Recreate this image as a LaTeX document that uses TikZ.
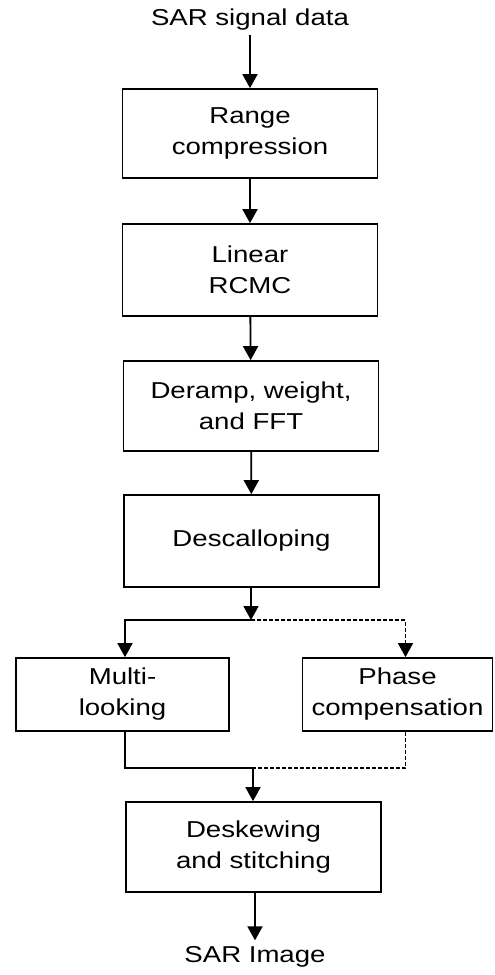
\documentclass[tikz,border=0pt]{standalone}
\usepackage{fontspec}
\setmainfont[FakeStretch=1.2]{Liberation Sans}
\usepackage{tikz}
\usetikzlibrary{
    positioning,
    arrows.meta,
    calc
}

\begin{document}
\begin{tikzpicture}[x=1pt, y=-1pt,
        txt/.style={font=\fontsize{23}{31}\selectfont, align=center, inner sep=0pt},
        stage/.style={txt, draw, line width=1.7pt, minimum width=255pt, minimum height=90pt},
        flow/.style={line width=1.8pt, -{Triangle[length=14pt, width=15pt]}},
        link/.style={line width=1.8pt},
        dlink/.style={line width=1.5pt, dash pattern=on 4pt off 2pt}
    ]
    \useasboundingbox (0,0) rectangle (495,975);

    % input and output
    \node[txt, inner ysep=4pt] (sig) at (250, 20) {SAR signal data};
    \node[txt, inner ysep=6pt] (img) at (255, 957) {SAR Image};

    % main chain
    \node[stage, minimum height=89pt] (rc) at (250, 133.5) {Range\\compression};
    \node[stage, minimum height=92pt] (rcmc) at (250, 270) {Linear\\RCMC};
    \node[stage] (fft) at (251, 406) {Deramp, weight,\\and FFT};
    \node[stage, minimum height=92pt] (desc) at (251.5, 541) {Descalloping};

    % the two branches
    \node[stage, minimum width=213pt, minimum height=73pt] (multi) at (122.5, 694.5) {Multi-\\looking};
    \node[stage, minimum width=190pt, minimum height=73pt] (phase) at (397.5, 694.5) {Phase\\compensation};

    \node[stage] (desk) at (253.5, 847) {Deskewing\\and stitching};

    % split and merge points
    \coordinate (split) at (251, 620);
    \coordinate (merge) at (253, 768);

    \draw[flow] (sig) -- (sig |- rc.north);
    \draw[flow] (rc) -- (rcmc);
    \draw[flow] (rcmc) -- (fft);
    \draw[flow] (fft) -- (desc);
    \draw[flow] (desc.south -| split) -- (split);

    \draw[flow] (split) -| ([xshift=2.5pt]multi.north);
    \draw[dlink, -{Triangle[length=14pt, width=15pt]}] (split) -| ([xshift=8pt]phase.north);

    \draw[link] ([xshift=2.5pt]multi.south) |- (merge);
    \draw[dlink] ([xshift=8pt]phase.south) |- (merge);
    \draw[flow] (merge) -- (merge |- desk.north);

    \draw[flow] (desk.south -| img) -- (img.north);
\end{tikzpicture}
\end{document}
